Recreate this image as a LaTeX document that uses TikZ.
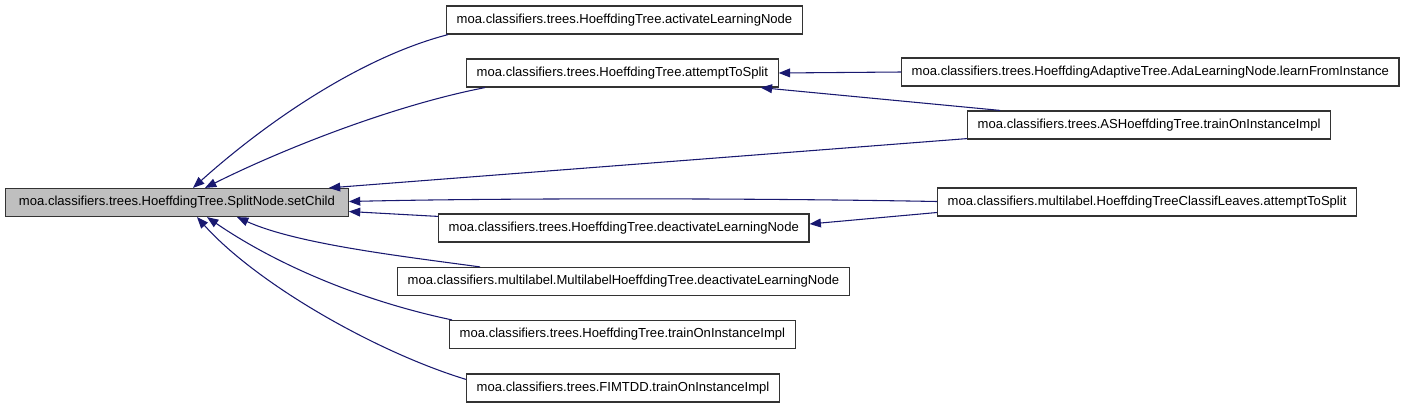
\documentclass[tikz,border=0pt]{standalone}
\usepackage{fontspec}
\setmainfont{Liberation Sans}
\usetikzlibrary{arrows.meta,calc}
\definecolor{edgeblue}{HTML}{191970}
\definecolor{boxline}{HTML}{333333}
\definecolor{hilite}{HTML}{BFBFBF}
\begin{document}
\begin{tikzpicture}[x=0.75pt,y=-0.75pt,
  fn/.style={draw=boxline, line width=0.9pt, fill=white, anchor=west, minimum height=21pt, inner xsep=7.6pt, inner ysep=0pt, font=\fontsize{9.8}{12}\selectfont},
  cur/.style={fn, fill=hilite, minimum width=257pt},
  edge/.style={draw=edgeblue, line width=0.8pt, -{Triangle[length=8.5pt,width=6.6pt]}}]
\useasboundingbox (0,0) rectangle (1405,408);
\node[cur] (A) at (5,202.5) {moa.classifiers.trees.HoeffdingTree.SplitNode.setChild};
\node[fn] (B) at (446,20) {moa.classifiers.trees.HoeffdingTree.activateLearningNode};
\node[fn] (C) at (466,73) {moa.classifiers.trees.HoeffdingTree.attemptToSplit};
\node[fn] (D) at (901,72) {moa.classifiers.trees.HoeffdingAdaptiveTree.AdaLearningNode.learnFromInstance};
\node[fn] (E) at (967,125) {moa.classifiers.trees.ASHoeffdingTree.trainOnInstanceImpl};
\node[fn] (F) at (937,202) {moa.classifiers.multilabel.HoeffdingTreeClassifLeaves.attemptToSplit};
\node[fn] (G) at (438,228) {moa.classifiers.trees.HoeffdingTree.deactivateLearningNode};
\node[fn] (H) at (397,281.5) {moa.classifiers.multilabel.MultilabelHoeffdingTree.deactivateLearningNode};
\node[fn] (I) at (449,334.5) {moa.classifiers.trees.HoeffdingTree.trainOnInstanceImpl};
\node[fn] (J) at (466,388) {moa.classifiers.trees.FIMTDD.trainOnInstanceImpl};

\draw[edge] ($(B.south west)+(2,0)$) .. controls (358,58) and (263,125) .. ($(A.north west)+(188,0)$);
\draw[edge] ($(C.south west)+(19,0)$) .. controls (395,105) and (285,148) .. ($(A.north west)+(200,0)$);
\draw[edge] ($(E.south west)+(0,-1)$) -- ($(A.north east)+(-20,0)$);
\draw[edge] ($(E.north west)+(33,0)$) -- ($(C.south east)+(-18,0)$);
\draw[edge] (D.west) -- (C.east);
\draw[edge] ($(F.west)+(0,-0.5)$) .. controls (750,198) and (500,198) .. ($(A.east)+(0,-1)$);
\draw[edge] ($(F.west)+(0,10.5)$) -- ($(G.east)+(0,-4)$);
\draw[edge] ($(G.north west)+(0,3)$) -- ($(A.east)+(0,9)$);
\draw[edge] ($(H.north west)+(83,0)$) .. controls (400,256) and (297,244) .. ($(A.south west)+(232,0)$);
\draw[edge] ($(I.north west)+(3,0)$) .. controls (362,301) and (277,265) .. ($(A.south west)+(202,0)$);
\draw[edge] ($(J.north west)+(0,6)$) .. controls (376,352) and (257,284) .. ($(A.south west)+(192,0)$);
\end{tikzpicture}
\end{document}
